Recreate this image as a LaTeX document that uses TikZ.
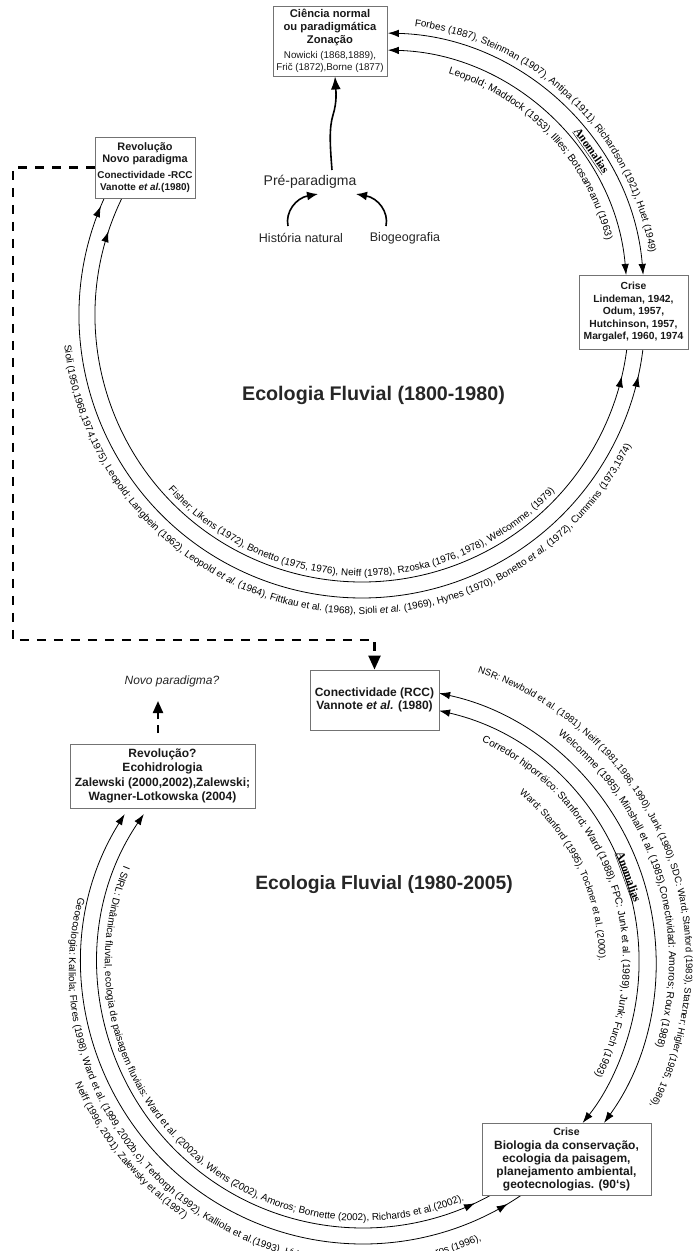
\documentclass[tikz,border=0pt]{standalone}
\usepackage{fontspec}
\setmainfont{Liberation Sans}
\newfontfamily\serifx{Liberation Serif}
\usetikzlibrary{calc,arrows.meta,decorations.text,decorations.markings}

% #1 centre, #2 radius, #3 start angle, #4 end angle, #5 font size, #6 text
\newcommand\arclab[6]{%
  \def\curfs{\fontsize{#5}{#5}\selectfont}%
  \path[decorate,decoration={text along path,text align=center,
    text={|\curfs|#6}}]
    ($(#1)+(#3:#2pt)$) arc[start angle=#3,end angle=#4,radius=#2pt];}
\newcommand\arclabL[6]{%
  \def\curfs{\fontsize{#5}{#5}\selectfont}%
  \path[decorate,decoration={text along path,text align=left,
    text={|\curfs|#6}}]
    ($(#1)+(#3:#2pt)$) arc[start angle=#3,end angle=#4,radius=#2pt];}

\tikzset{
  arcline/.style={line width=0.8pt,black},
  box/.style={draw=black!55,line width=0.9pt,fill=white,inner sep=0pt,align=center,text=black!90},
  anom/.style={font=\serifx\bfseries\fontsize{11.5}{12}\selectfont,inner sep=0pt},
  bigdash/.style={line width=2.3pt,dash pattern=on 9pt off 8pt},
  thickarrow/.style={line width=1.6pt},
}

\begin{document}
\begin{tikzpicture}[x=1pt,y=1pt,>={Latex[length=11pt,width=7.5pt]}]
\useasboundingbox (0,0) rectangle (693,-1251);
\clip (0,0) rectangle (693,-1251);

\coordinate (Ct) at (381,-296);
\coordinate (Cb) at (362,-315);
\coordinate (Dr) at (381,-962);
\coordinate (Dl) at (363,-963);
\coordinate (Dg) at (363,-971);

% ---------------- upper circle arcs ----------------
\draw[arcline,<->] ($(Ct)+(88.5:263pt)$) arc[start angle=88.5,end angle=4.6,radius=263pt];
\draw[arcline,<->] ($(Ct)+(88.4:246pt)$) arc[start angle=88.4,end angle=4.9,radius=246pt];

\draw[arcline,postaction={decorate},decoration={markings,
   mark=at position 0.009 with {\arrowreversed{>}},
   mark=at position 0.9726 with {\arrow{>}}}]
  ($(Cb)+(155.6:283pt)$) arc[start angle=155.6,end angle=353,radius=283pt];
\draw[arcline,postaction={decorate},decoration={markings,
   mark=at position 0.0388 with {\arrowreversed{>}},
   mark=at position 0.970 with {\arrow{>}}}]
  ($(Cb)+(154:267pt)$) arc[start angle=154,end angle=352.7,radius=267pt];

% ---------------- lower circle arcs ----------------
\draw[arcline,<->] ($(Dr)+(77.8:275pt)$) arc[start angle=77.8,end angle=-35.8,radius=275pt];
\draw[arcline,<->] ($(Dr)+(77:258pt)$) arc[start angle=77,end angle=-38.6,radius=258pt];

\draw[arcline,<-,postaction={decorate},decoration={markings,
   mark=at position 0.9714 with {\arrow{>}}}]
  ($(Dl)+(148:281pt)$) arc[start angle=148,end angle=305.5,radius=281pt];
\draw[arcline,<-,postaction={decorate},decoration={markings,
   mark=at position 0.9676 with {\arrow{>}}}]
  ($(Dl)+(145.8:265pt)$) arc[start angle=145.8,end angle=300,radius=265pt];

% ---------------- labels along the arcs ----------------
\arclab{Ct}{272}{100}{-8}{9.9}{Forbes (1887), Steinman (1907), Antipa (1911), Richardson (1921), Huet (1949)}
\arclab{Ct}{232}{90}{-3}{10.2}{Leopold; Maddock (1953), Illies; Botosaneanu (1963)}
\arclab{Cb}{299}{175}{344.8}{9.9}{Sioli (1950,1968,1974,1975), Leopold; Langbein (1962), Leopold |\curfs\itshape|et al.|\curfs\upshape| (1964), Fittkau et al. (1968), Sioli |\curfs\itshape|et al.|\curfs\upshape| (1969), Hynes (1970), Bonetto |\curfs\itshape|et al.|\curfs\upshape| (1972), Cummins (1973,1974)}
\arclab{Cb}{261}{200}{339.7}{9.9}{Fisher; Likens (1972), Bonetto (1975, 1976), Neiff (1978), Rzoska (1976, 1978), Welcomme, (1979)}

\arclab{Dl}{258}{150}{301}{9.95}{I SIRL: Dinâmica fluvial, ecologia de paisagem fluviais: Ward et al. (2002a), Wiens (2002), Amoros; Bornette (2002),  Richards et al.(2002).}
\arclabL{Dg}{294}{165.5}{330}{9.9}{Geoecologia: Kalliola; Flores (1998), Ward et al. (1999, 2002b,c), Terborgh (1992), Kalliola et al.(1993), Hidrossistemas fluviais: Petts; Amoros (1996),}
\arclab{Dl}{312}{195}{242.8}{9.75}{Neiff (1996, 2001), Zalewsky et al.(1997)}

\arclab{Dr}{305}{80}{-36.6}{9.5}{NSR: Newbold et al. (1981), Neiff (1981,1986, 1990), Junk (1980), SDC: Ward; Stanford (1983), Statzner; Higler (1985, 1986),}
\arclab{Dr}{288}{70}{-35}{10.2}{Welcomme (1985), Minshall et al. (1985),Conectividad: Amoros; Roux (1988)}
\arclab{Dr}{242}{72}{-34.5}{10.15}{Corredor hiporréico: Stanford; Ward (1988), FPC: Junk et al. (1989), Junk; Furch (1993)}
\arclab{Dr}{218}{60}{-9}{9.6}{Ward; Stanford (1995),  Tockner et al. (2000).}

\node[anom,rotate=-55.4] (an1) at (591,-151) {\underline{Anomalias}};
\node[anom,rotate=-70] (an2) at (628,-877) {\underline{Anomalias}};

% ---------------- titles ----------------
\node[font=\bfseries\fontsize{19.7}{22}\selectfont,text=black!85] (t1) at (373.5,-395) {Ecologia Fluvial (1800-1980)};
\node[font=\bfseries\fontsize{19.3}{22}\selectfont,text=black!85] (t2) at (384,-885) {Ecologia Fluvial (1980-2005)};

% ---------------- boxes ----------------
\node[box,minimum width=114pt,minimum height=70pt,font=\fontsize{11.2}{13}\selectfont] (cn) at (330,-41)
 {{\bfseries Ciência normal}\\{\bfseries ou paradigmática}\\{\bfseries Zonação}\\[2pt]{\fontsize{9.8}{12}\selectfont Nowicki (1868,1889),}\\[-1pt]{\fontsize{9.8}{12}\selectfont Frič (1872),Borne (1877)}};

\node[box,minimum width=100pt,minimum height=61pt,font=\fontsize{10.9}{12}\selectfont] (rv) at (145,-167.5)
 {{\bfseries Revolução}\\{\bfseries Novo paradigma}\\[4pt]{\fontsize{9.9}{12}\selectfont\bfseries Conectividade -RCC}\\{\fontsize{9.9}{12}\selectfont\bfseries Vanotte \textit{et al.}(1980)}};

\node[box,minimum width=109pt,minimum height=74pt,font=\fontsize{10.3}{12.5}\selectfont] (cr) at (633.5,-312)
 {{\bfseries Crise}\\{\bfseries Lindeman, 1942,}\\{\bfseries Odum, 1957,}\\{\bfseries Hutchinson, 1957,}\\{\bfseries Margalef, 1960, 1974}};

\node[box,minimum width=129pt,minimum height=60pt,font=\fontsize{12}{13}\selectfont] (cc) at (374.5,-700)
 {{\bfseries Conectividade (RCC)}\\{\bfseries Vannote \textit{et al.} (1980)}};

\node[box,minimum width=185pt,minimum height=64pt,font=\fontsize{12}{14.3}\selectfont] (rq) at (162.5,-776)
 {{\bfseries Revolução?}\\{\bfseries Ecohidrologia}\\{\bfseries Zalewski (2000,2002),Zalewski;}\\{\bfseries Wagner-Lotkowska (2004)}};

\node[box,minimum width=169pt,minimum height=72pt,font=\fontsize{12}{13}\selectfont] (cl) at (566.5,-1159)
 {{\fontsize{10.5}{13}\selectfont\bfseries Crise}\\[1pt]{\bfseries Biologia da conservação,}\\{\bfseries ecologia da paisagem,}\\{\bfseries planejamento ambiental,}\\{\bfseries geotecnologias. (90\char96 s)}};

% ---------------- pre-paradigm ----------------
\node[font=\fontsize{14}{16}\selectfont,text=black!85] (pp) at (310,-182) {Pré-paradigma};
\node[font=\fontsize{12.5}{14}\selectfont,text=black!85] (hn) at (301,-238) {História natural};
\node[font=\fontsize{12.5}{14}\selectfont,text=black!85] (bg) at (405,-238) {Biogeografia};

\coordinate (w0) at (332,-170);
\draw[thickarrow,-{Latex[length=13pt,width=10pt]}] (w0) .. controls (330,-145) and (329,-128) .. (333,-115) .. controls (337,-102) and (336,-92) .. (cn.south -| 335,0);
\coordinate (h0) at (288,-226);
\coordinate (h1) at (318,-194);
\coordinate (b0) at (386,-226);
\coordinate (b1) at (356,-194);
\draw[thickarrow,-{Latex[length=11pt,width=9pt]}] (h0) .. controls (285,-212) and (296,-198) .. (h1);
\draw[thickarrow,-{Latex[length=11pt,width=9pt]}] (b0) .. controls (389,-212) and (378,-198) .. (b1);

% ---------------- dashed connectors ----------------
\coordinate (d2) at (13,-640);
\draw[bigdash,-{Triangle[length=14pt,width=12pt]}] (rv.west) -| (d2) -| (cc.north);

\node[font=\itshape\fontsize{12}{14}\selectfont,text=black!85] (np) at (172,-681) {Novo paradigma?};
\coordinate (npa) at (158,-733);
\coordinate (npb) at (158,-701);
\draw[line width=2.2pt,dash pattern=on 8pt off 6pt,-{Triangle[length=12pt,width=10pt]}] (npa) -- (npb);

\end{tikzpicture}
\end{document}
